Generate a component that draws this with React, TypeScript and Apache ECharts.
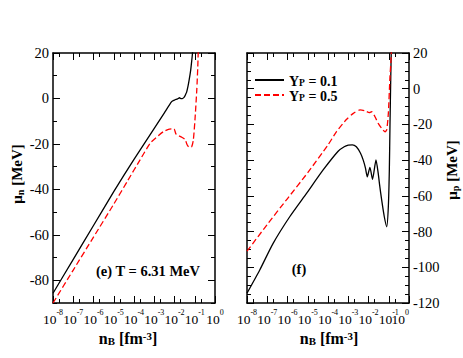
import React, { useEffect, useRef } from "react";
import * as echarts from "echarts";

// x values are log10(n_B / fm^-3)
const decadeTicks = [-8, -7, -6, -5, -4, -3, -2, -1, 0];
const evenDecadeLabels = [-8, -6, -4, -2];
const oddDecadeLabels = [-7, -5, -3, -1];
const lastDecadeLabel = [0];
const minorDecadeTicks = [-7.699, -6.699, -5.699, -4.699, -3.699, -2.699, -1.699, -0.699];

const muNMajorTicks = [-80, -60, -40, -20, 0, 20];
const muNMinorTicks = [-90, -70, -50, -30, -10, 10];
const muPMajorTicks = [-120, -100, -80, -60, -40, -20, 0, 20];
const muPMinorTicks = [-115, -110, -105, -95, -90, -85, -75, -70, -65, -55, -50, -45, -35, -30, -25, -15, -10, -5, 5, 10, 15];

const seriesNames = ["Yp = 0.1", "Yp = 0.5"];

// panel (e): neutron chemical potential, T = 6.31 MeV
const muN_Yp01_x = [-8, -7, -6, -5, -4, -3, -2.5, -2.14, -2.0, -1.85, -1.75, -1.67, -1.6, -1.52, -1.45, -1.4, -1.33, -1.27, -1.2, -1.15, -1.11, -1.08];
const muN_Yp01_y = [-85.7, -70.8, -55.9, -41.0, -26.8, -13.2, -6.3, -1.4, -0.7, -0.2, 0.3, -0.1, 0.0, 0.6, 1.8, 2.8, 5.5, 8.5, 12.5, 16.5, 20, 23];

const muN_Yp05_x = [-8, -7, -6, -5, -4.3, -3.7, -3.2, -2.8, -2.55, -2.3, -2.1, -2.02, -1.93, -1.8, -1.65, -1.48, -1.37, -1.27, -1.15, -1.07, -0.99, -0.9, -0.85, -0.83, -0.8];
const muN_Yp05_y = [-90, -75.5, -61, -46.5, -36, -27, -19.7, -16.4, -14.6, -13.6, -13.4, -13.4, -15.6, -16.4, -17, -18, -20.5, -21.5, -21.2, -18.3, -9.5, 3.7, 14, 20, 30];

// panel (f): proton chemical potential
const muP_Yp01_x = [-8, -7.37, -6.71, -5.89, -5.06, -4.24, -3.5, -3.2, -3.0, -2.8, -2.6, -2.4, -2.26, -2.15, -2.06, -1.93, -1.8, -1.63, -1.52, -1.45, -1.35, -1.22, -1.1, -1.02, -0.97, -0.94, -0.9, -0.87];
const muP_Yp01_y = [-114.5, -101.5, -86.6, -71.7, -58.6, -45.5, -35, -32.5, -31.6, -31.4, -32.5, -36, -40, -44.5, -49.3, -44, -50.7, -39.9, -47.4, -54, -62.3, -71.7, -77.3, -66, -45, -21.3, 6.7, 25];

const muP_Yp05_x = [-8, -7, -6, -5, -4, -3.58, -3.08, -2.75, -2.42, -2.18, -1.96, -1.84, -1.68, -1.52, -1.35, -1.18, -1.1, -1.02, -0.94, -0.89, -0.86];
const muP_Yp05_y = [-91, -76, -61.5, -47, -31.5, -24, -17.1, -13.8, -11.9, -12.3, -13.4, -12.9, -15.7, -19.4, -22.2, -24.1, -23.1, -13.8, 6.7, 16, 25];

const FONT = "Liberation Serif";

const pairs = (xs: number[], ys: number[]) => xs.map((x, i) => [x, ys[i]]);

function makeX(gridIndex: number, position: string, minor: boolean) {
  return {
    type: "value",
    gridIndex,
    position,
    min: -8,
    max: 0,
    axisLine: { show: !minor, onZero: false, lineStyle: { color: "#000", width: 1.5 } },
    axisTick: {
      show: true,
      inside: true,
      length: minor ? 4 : 7,
      customValues: minor ? minorDecadeTicks : decadeTicks,
      lineStyle: { color: "#000", width: 1 },
    },
    axisLabel: { show: false },
    splitLine: { show: false },
  };
}

function makeXLabels(gridIndex: number, values: number[], align: string) {
  return {
    type: "value",
    gridIndex,
    position: "bottom",
    min: -8,
    max: 0,
    axisLine: { show: false },
    axisTick: { show: false },
    axisLabel: {
      show: true,
      customValues: values,
      showMinLabel: true,
      showMaxLabel: true,
      align,
      margin: 5,
      formatter: (v: number) => `{b|10}{s|${Math.round(v)}}`,
      rich: {
        b: { fontFamily: FONT, fontSize: 13.5, color: "#000", lineHeight: 18, verticalAlign: "bottom" },
        s: { fontFamily: FONT, fontSize: 8, color: "#000", lineHeight: 10, verticalAlign: "top" },
      },
    },
    splitLine: { show: false },
  };
}

function makeY(gridIndex: number, position: string, min: number, ticks: number[], minor: boolean, labels: boolean) {
  return {
    type: "value",
    gridIndex,
    position,
    min,
    max: 20,
    axisLine: { show: !minor, onZero: false, lineStyle: { color: "#000", width: 1.5 } },
    axisTick: {
      show: true,
      inside: true,
      length: minor ? 4 : 7,
      customValues: ticks,
      lineStyle: { color: "#000", width: 1 },
    },
    axisLabel: labels
      ? {
          show: true,
          customValues: ticks,
          showMinLabel: true,
          showMaxLabel: true,
          margin: 4,
          fontFamily: FONT,
          fontSize: 14.5,
          color: "#000",
        }
      : { show: false },
    splitLine: { show: false },
  };
}

const blackLine = { color: "#000", width: 1.3, type: "solid" };
const redLine = { color: "#ff0000", width: 1.3, type: [6, 3] };

function titleRich(size: number) {
  return {
    m: { fontFamily: FONT, fontSize: size, fontWeight: "bold", fill: "#000", lineHeight: 16, verticalAlign: "middle" },
    sub: { fontFamily: FONT, fontSize: size * 0.68, fontWeight: "bold", fill: "#000", lineHeight: 8, verticalAlign: "bottom" },
    sup: { fontFamily: FONT, fontSize: size * 0.68, fontWeight: "bold", fill: "#000", lineHeight: 8, verticalAlign: "top" },
  };
}

export default function App() {
  const ref = useRef<HTMLDivElement>(null);
  useEffect(() => {
    if (!ref.current) return;
    const chart = echarts.init(ref.current, undefined, { renderer: "svg" });
    const option: any = {
      animation: false,
      backgroundColor: "#fff",
      grid: [
        { left: 53, top: 53, width: 162, height: 250 },
        { left: 247, top: 53, width: 162, height: 250 },
      ],
      xAxis: [
        makeX(0, "bottom", false),
        makeX(0, "bottom", true),
        makeX(0, "top", false),
        makeX(0, "top", true),
        makeXLabels(0, evenDecadeLabels, "center"),
        makeXLabels(0, oddDecadeLabels, "center"),
        makeXLabels(0, lastDecadeLabel, "center"),
        makeX(1, "bottom", false),
        makeX(1, "bottom", true),
        makeX(1, "top", false),
        makeX(1, "top", true),
        makeXLabels(1, evenDecadeLabels, "center"),
        makeXLabels(1, oddDecadeLabels, "center"),
        makeXLabels(1, lastDecadeLabel, "right"),
      ],
      yAxis: [
        makeY(0, "left", -90, muNMajorTicks, false, true),
        makeY(0, "left", -90, muNMinorTicks, true, false),
        makeY(0, "right", -90, muNMajorTicks, false, false),
        makeY(0, "right", -90, muNMinorTicks, true, false),
        makeY(1, "left", -120, muPMajorTicks, false, false),
        makeY(1, "left", -120, muPMinorTicks, true, false),
        makeY(1, "right", -120, muPMajorTicks, false, true),
        makeY(1, "right", -120, muPMinorTicks, true, false),
      ],
      legend: {
        data: seriesNames,
        left: 254,
        top: 74,
        padding: 0,
        orient: "vertical",
        itemWidth: 29,
        itemHeight: 10,
        itemGap: 1,
        itemStyle: { opacity: 0 },
        formatter: (name: string) =>
          name === seriesNames[0] ? "{a|Y}{b|P}{a| = 0.1}" : "{a|Y}{b|P}{a| = 0.5}",
        textStyle: {
          rich: {
            a: { fontFamily: FONT, fontSize: 14, fontWeight: "bold", color: "#000", lineHeight: 16, verticalAlign: "bottom" },
            b: { fontFamily: FONT, fontSize: 9.5, fontWeight: "bold", color: "#000", lineHeight: 10, verticalAlign: "bottom" },
          },
        },
      },
      series: [
        {
          type: "line", name: seriesNames[0], xAxisIndex: 0, yAxisIndex: 0,
          data: pairs(muN_Yp01_x, muN_Yp01_y), symbol: "none", smooth: 0.2,
          lineStyle: blackLine, itemStyle: { color: "#000" },
        },
        {
          type: "line", name: seriesNames[1], xAxisIndex: 0, yAxisIndex: 0,
          data: pairs(muN_Yp05_x, muN_Yp05_y), symbol: "none", smooth: 0.2,
          lineStyle: redLine, itemStyle: { color: "#ff0000" },
        },
        {
          type: "line", name: seriesNames[0], xAxisIndex: 7, yAxisIndex: 6,
          data: pairs(muP_Yp01_x, muP_Yp01_y), symbol: "none", smooth: 0.2,
          lineStyle: blackLine, itemStyle: { color: "#000" },
        },
        {
          type: "line", name: seriesNames[1], xAxisIndex: 7, yAxisIndex: 6,
          data: pairs(muP_Yp05_x, muP_Yp05_y), symbol: "none", smooth: 0.2,
          lineStyle: redLine, itemStyle: { color: "#ff0000" },
        },
      ],
      graphic: [
        {
          type: "text", x: 17, y: 174, rotation: Math.PI / 2,
          style: { text: "{m|μ}{sub|n}{m| [MeV]}", rich: titleRich(15), align: "center", verticalAlign: "middle" },
        },
        {
          type: "text", x: 452, y: 170, rotation: Math.PI / 2,
          style: { text: "{m|μ}{sub|p}{m| [MeV]}", rich: titleRich(15), align: "center", verticalAlign: "middle" },
        },
        {
          type: "text", x: 128, y: 338,
          style: { text: "{m|n}{sub|B}{m| [fm}{sup|-3}{m|]}", rich: titleRich(16), align: "center", verticalAlign: "middle" },
        },
        {
          type: "text", x: 329, y: 338,
          style: { text: "{m|n}{sub|B}{m| [fm}{sup|-3}{m|]}", rich: titleRich(16), align: "center", verticalAlign: "middle" },
        },
        {
          type: "text", x: 96, y: 271,
          style: { text: "(e) T = 6.31 MeV", fontFamily: FONT, fontSize: 14.5, fontWeight: "bold", fill: "#000", align: "left", verticalAlign: "middle" },
        },
        {
          type: "text", x: 299, y: 269,
          style: { text: "(f)", fontFamily: FONT, fontSize: 14.5, fontWeight: "bold", fill: "#000", align: "center", verticalAlign: "middle" },
        },
      ],
    };
    chart.setOption(option);
    return () => chart.dispose();
  }, []);
  return (
    <div
      ref={ref}
      style={{ position: "fixed", left: 0, top: 0, width: 463, height: 358, background: "#fff" }}
    />
  );
}
